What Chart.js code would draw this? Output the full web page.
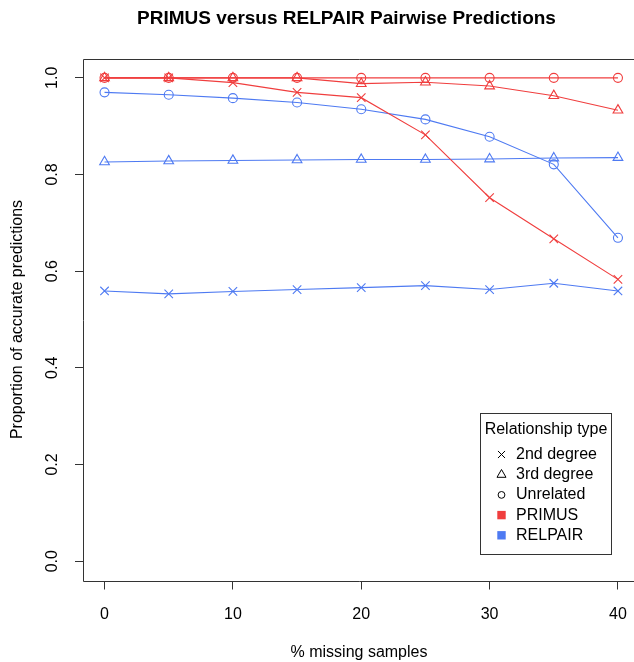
<!DOCTYPE html>
<html>
<head>
<meta charset="utf-8">
<script src="https://cdn.jsdelivr.net/npm/chart.js@4.4.1/dist/chart.umd.min.js"></script>
<style>
  html, body { margin: 0; padding: 0; background: #fff; overflow: hidden; }
  #chart { display: block; }
</style>
</head>
<body>
<canvas id="chart" width="634" height="662"></canvas>
<script>
// Values
const missingPct = [0, 5, 10, 15, 20, 25, 30, 35, 40];

const primus2nd = [1.0, 1.0, 0.99, 0.97, 0.959, 0.882, 0.752, 0.667, 0.583];
const primus3rd = [1.0, 1.0, 1.0, 1.0, 0.988, 0.991, 0.983, 0.963, 0.933];
const primusUnrelated = [1.0, 1.0, 1.0, 1.0, 1.0, 1.0, 1.0, 1.0, 1.0];

const relpair2nd = [0.559, 0.553, 0.558, 0.562, 0.566, 0.570, 0.562, 0.575, 0.559];
const relpair3rd = [0.826, 0.828, 0.829, 0.830, 0.831, 0.831, 0.832, 0.834, 0.835];
const relpairUnrelated = [0.970, 0.965, 0.958, 0.949, 0.935, 0.914, 0.878, 0.821, 0.669];

const xTicks = [0, 10, 20, 30, 40];
const yTicks = [0, 0.2, 0.4, 0.6, 0.8, 1.0];

const relTypes = ['2nd degree', '3rd degree', 'Unrelated'];
const methods = ['PRIMUS', 'RELPAIR'];

const RED = 'rgb(240, 62, 62)';
const BLUE = 'rgb(78, 122, 242)';
const AXIS = '#333';

Chart.defaults.font.family = "'Liberation Sans', Arial, Helvetica, sans-serif";
Chart.defaults.font.size = 16;
Chart.defaults.color = '#000';

// marker shapes like R's pch 4, 2 and 1
const markers = [
    { style: 'crossRot', radius: 6 },
    { style: 'triangle', radius: 5.6 },
    { style: 'circle', radius: 4.5 }
];

function makeSeries(label, values, color, marker) {
    return {
        label: label,
        data: missingPct.map((x, i) => ({ x: x, y: values[i] })),
        borderColor: color,
        backgroundColor: 'rgba(0,0,0,0)',
        borderWidth: 1.1,
        pointStyle: marker.style,
        pointRadius: marker.radius,
        pointBorderColor: color,
        pointBackgroundColor: 'rgba(0,0,0,0)',
        pointBorderWidth: 1.1,
        tension: 0,
        fill: false
    };
}

// Title centred where the original has it
const plotTitle = {
    id: 'plotTitle',
    afterDraw(chart) {
        const ctx = chart.ctx;
        ctx.save();
        ctx.font = "bold 19px 'Liberation Sans', Arial, sans-serif";
        ctx.fillStyle = '#000';
        ctx.textAlign = 'center';
        ctx.textBaseline = 'middle';
        ctx.fillText('PRIMUS versus RELPAIR Pairwise Predictions', 346.5, 18.5);
        ctx.restore();
    }
};

// Box around the plot region (its right side falls outside the picture)
const plotBox = {
    id: 'plotBox',
    afterDatasetsDraw(chart) {
        const a = chart.chartArea;
        const ctx = chart.ctx;
        const l = Math.round(a.left) - 0.5;
        const t = Math.round(a.top) + 0.5;
        const b = Math.round(a.bottom) + 0.5;
        ctx.save();
        ctx.strokeStyle = AXIS;
        ctx.lineWidth = 1;
        ctx.beginPath();
        ctx.moveTo(a.right + 10, t);
        ctx.lineTo(l, t);
        ctx.lineTo(l, b);
        ctx.lineTo(a.right + 10, b);
        ctx.stroke();
        ctx.restore();
    }
};

// Legend box in the bottom right (inset 5% like R)
const relLegend = {
    id: 'relLegend',
    afterDraw(chart) {
        const a = chart.chartArea;
        const ctx = chart.ctx;
        const xs = chart.scales.x;
        const w = 131, h = 141.3;
        // the R plot region runs to x = 41.6
        const plotRight = xs.getPixelForValue(41.6);
        const right = plotRight - 0.05 * (plotRight - a.left);
        const bottom = a.bottom - 0.05 * (a.bottom - a.top);
        const L = Math.round(right - w) + 0.5;
        const T = Math.round(bottom - h) + 0.5;

        ctx.save();
        ctx.fillStyle = '#fff';
        ctx.fillRect(L, T, w, h);
        ctx.strokeStyle = AXIS;
        ctx.lineWidth = 1;
        ctx.strokeRect(L, T, Math.round(w), Math.round(h));

        ctx.fillStyle = '#000';
        ctx.font = "16px 'Liberation Sans', Arial, sans-serif";
        ctx.textBaseline = 'middle';
        ctx.textAlign = 'center';
        ctx.fillText('Relationship type', L + w / 2, T + 16);

        const symX = L + 21;
        const textX = L + 35.5;
        const legendMarkers = [
            { pointStyle: 'crossRot', radius: 5 },
            { pointStyle: 'triangle', radius: 5.2 },
            { pointStyle: 'circle', radius: 3.4 }
        ];
        ctx.textAlign = 'left';
        relTypes.forEach((name, i) => {
            const y = T + 41 + i * 20.2;
            ctx.save();
            ctx.strokeStyle = '#000';
            ctx.fillStyle = 'rgba(0,0,0,0)';
            Chart.helpers.drawPoint(ctx, {
                pointStyle: legendMarkers[i].pointStyle,
                radius: legendMarkers[i].radius,
                borderWidth: 1.1,
                rotation: 0
            }, symX, y);
            ctx.restore();
            ctx.fillText(name, textX, y);
        });
        [RED, BLUE].forEach((color, i) => {
            const y = T + 41 + (i + 3) * 20.2;
            ctx.fillStyle = color;
            ctx.fillRect(symX - 4.2, y - 4.2, 8.4, 8.4);
            ctx.fillStyle = '#000';
            ctx.fillText(methods[i], textX, y);
        });
        ctx.restore();
    }
};

const ctx = document.getElementById('chart').getContext('2d');
const chart = new Chart(ctx, {
    type: 'line',
    data: {
        datasets: [
            makeSeries('PRIMUS 2nd degree', primus2nd, RED, markers[0]),
            makeSeries('PRIMUS 3rd degree', primus3rd, RED, markers[1]),
            makeSeries('PRIMUS Unrelated', primusUnrelated, RED, markers[2]),
            makeSeries('RELPAIR 2nd degree', relpair2nd, BLUE, markers[0]),
            makeSeries('RELPAIR 3rd degree', relpair3rd, BLUE, markers[1]),
            makeSeries('RELPAIR Unrelated', relpairUnrelated, BLUE, markers[2])
        ]
    },
    options: {
        responsive: false,
        animation: false,
        events: [],
        layout: { autoPadding: false, padding: { left: 0, right: 0, top: 58.5, bottom: 0 } },
        plugins: {
            legend: { display: false },
            title: { display: false },
            tooltip: { enabled: false }
        },
        scales: {
            x: {
                type: 'linear',
                min: -1.6,
                max: 41.25,
                afterBuildTicks: scale => { scale.ticks = xTicks.map(v => ({ value: v })); },
                afterFit: scale => {
                    scale.height = 81.5;
                    scale.paddingLeft = 0;
                    scale.paddingRight = 0;
                },
                border: { display: false },
                grid: { display: true, drawOnChartArea: false, drawTicks: true, tickLength: 9, color: AXIS },
                ticks: { padding: 15, color: '#000', font: { size: 16 } },
                title: { display: true, text: '% missing samples', padding: { top: 0, bottom: 0 }, font: { size: 16 } }
            },
            y: {
                min: -0.04,
                max: 1.04,
                afterBuildTicks: scale => { scale.ticks = yTicks.map(v => ({ value: v })); },
                afterFit: scale => {
                    scale.width = 84;
                    scale.paddingTop = 0;
                    scale.paddingBottom = 0;
                },
                border: { display: false },
                grid: { display: true, drawOnChartArea: false, drawTicks: true, tickLength: 9, color: AXIS },
                ticks: {
                    padding: 11,
                    minRotation: 90,
                    maxRotation: 90,
                    crossAlign: 'center',
                    color: '#000',
                    font: { size: 16 },
                    callback: v => v.toFixed(1)
                },
                title: { display: true, text: 'Proportion of accurate predictions', padding: { top: 8, bottom: 0 }, font: { size: 16 } }
            }
        }
    },
    plugins: [plotTitle, plotBox, relLegend]
});
</script>
</body>
</html>
